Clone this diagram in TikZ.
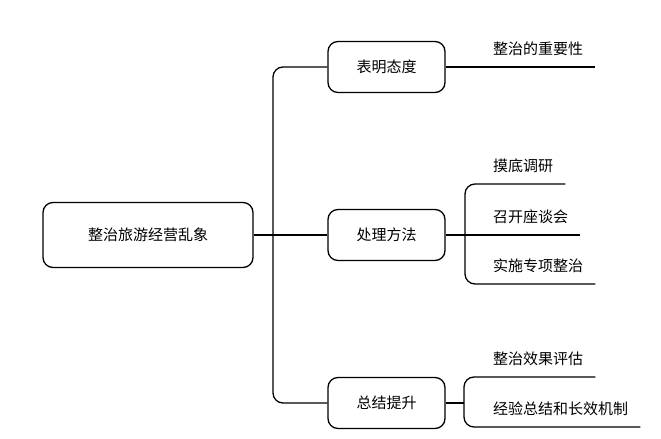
\documentclass[tikz,border=0pt]{standalone}
\usepackage{fontspec}
\setmainfont{Noto Sans CJK SC}
\begin{document}
\begin{tikzpicture}[x=1bp,y=-1bp,
  every node/.style={font=\fontsize{15bp}{18bp}\selectfont},
  boxstyle/.style={draw, line width=1.3bp, rounded corners=10bp, inner sep=0pt, align=center},
  leaf/.style={anchor=south west, inner xsep=12bp, inner ysep=0pt, text depth=12bp, text height=13bp},
  conn/.style={line width=1.3bp, rounded corners=10bp}]
\useasboundingbox (0,0) rectangle (661,439);
\node[boxstyle, minimum width=210bp, minimum height=65bp] (root) at (148,235) {整治旅游经营乱象};
\node[boxstyle, minimum width=117bp, minimum height=51bp] (b1) at (386.5,67) {表明态度};
\node[boxstyle, minimum width=117bp, minimum height=51bp] (b2) at (386.5,235) {处理方法};
\node[boxstyle, minimum width=117bp, minimum height=51bp] (b3) at (386.5,403) {总结提升};

\node[leaf] (l1) at (481,67) {整治的重要性};
\node[leaf] (l21) at (481,184) {摸底调研};
\node[leaf] (l22) at (481,235) {召开座谈会};
\node[leaf] (l23) at (481,284) {实施专项整治};
\node[leaf] (l31) at (481,377) {整治效果评估};
\node[leaf] (l32) at (481,427) {经验总结和长效机制};

\coordinate (j0) at (273,235);
\coordinate (j2) at (465,235);
\coordinate (j3) at (464,403);

\draw[conn] (root.east) -- (b2.west);
\draw[conn] (b1.west) -| (j0);
\draw[conn] (j0) |- (b3.west);

\draw[conn] (b1.east) -- (l1.south east);

\draw[conn] (b2.east) -- (l22.south east);
\draw[conn] (l21.south east) -| (j2);
\draw[conn] (j2) |- (l23.south east);

\draw[conn] (b3.east) -- (j3);
\draw[conn] (l31.south east) -| (j3);
\draw[conn] (j3) |- (l32.south east);
\end{tikzpicture}
\end{document}
